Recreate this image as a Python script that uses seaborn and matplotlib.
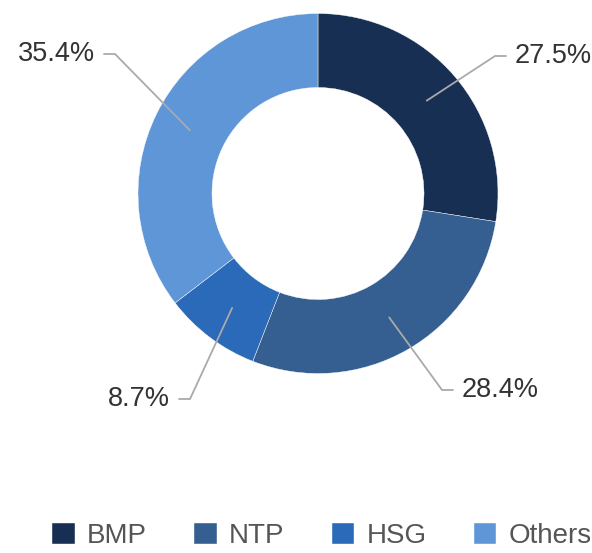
import numpy as np
import matplotlib
matplotlib.use('Agg')
import matplotlib.pyplot as plt
import seaborn as sns

categories = ['BMP', 'NTP', 'HSG', 'Others']
shares = [27.5, 28.4, 8.7, 35.4]
colors = ['#162f52', '#355f91', '#2a6ab8', '#5f96d8']

# where each label sits (elbow of the leader line), in pixels from top-left
label_elbows = [(495, 56), (442, 390), (190, 399), (115, 54)]

sns.set_theme(style='white')
plt.rcParams['font.family'] = ['Liberation Sans', 'DejaVu Sans']

W, H = 592, 553
fig = plt.figure(figsize=(W / 100, H / 100), dpi=100)
ax = fig.add_axes([0, 0, 1, 1])

cx, cy = 318, H - 193.5
R, ring = 180, 74
wedges, _ = ax.pie(shares, colors=colors, startangle=90, counterclock=False,
                   center=(cx, cy), radius=R,
                   wedgeprops=dict(width=ring, edgecolor='white', linewidth=0.3))
ax.set_xlim(0, W)
ax.set_ylim(0, H)
ax.set_aspect('equal')
ax.axis('off')

# leader lines + percentage labels
r_mid = R - ring / 2
for w, val, (ex, ey) in zip(wedges, shares, label_elbows):
    ang = np.deg2rad((w.theta1 + w.theta2) / 2)
    sx, sy = cx + r_mid * np.cos(ang), cy + r_mid * np.sin(ang)
    ey = H - ey
    right = ex > cx
    hx = ex + 11 if right else ex - 11
    ax.plot([sx, ex, hx], [sy, ey, ey], color='#aaaaaa', lw=1.3,
            solid_joinstyle='miter', zorder=3)
    tx = hx + 9 if right else hx - 9
    ax.text(tx, ey, f'{val}%', ha='left' if right else 'right', va='center',
            fontsize=19.5, color='#333333')

leg = ax.legend(wedges, categories, loc='center', ncol=4, frameon=False,
                bbox_to_anchor=(322 / W, 17 / H), bbox_transform=fig.transFigure,
                fontsize=20, handlelength=0.8, handleheight=0.8,
                handletextpad=0.45, columnspacing=1.7)
for t in leg.get_texts():
    t.set_color('#555555')

fig.savefig('out.png', dpi=100)
